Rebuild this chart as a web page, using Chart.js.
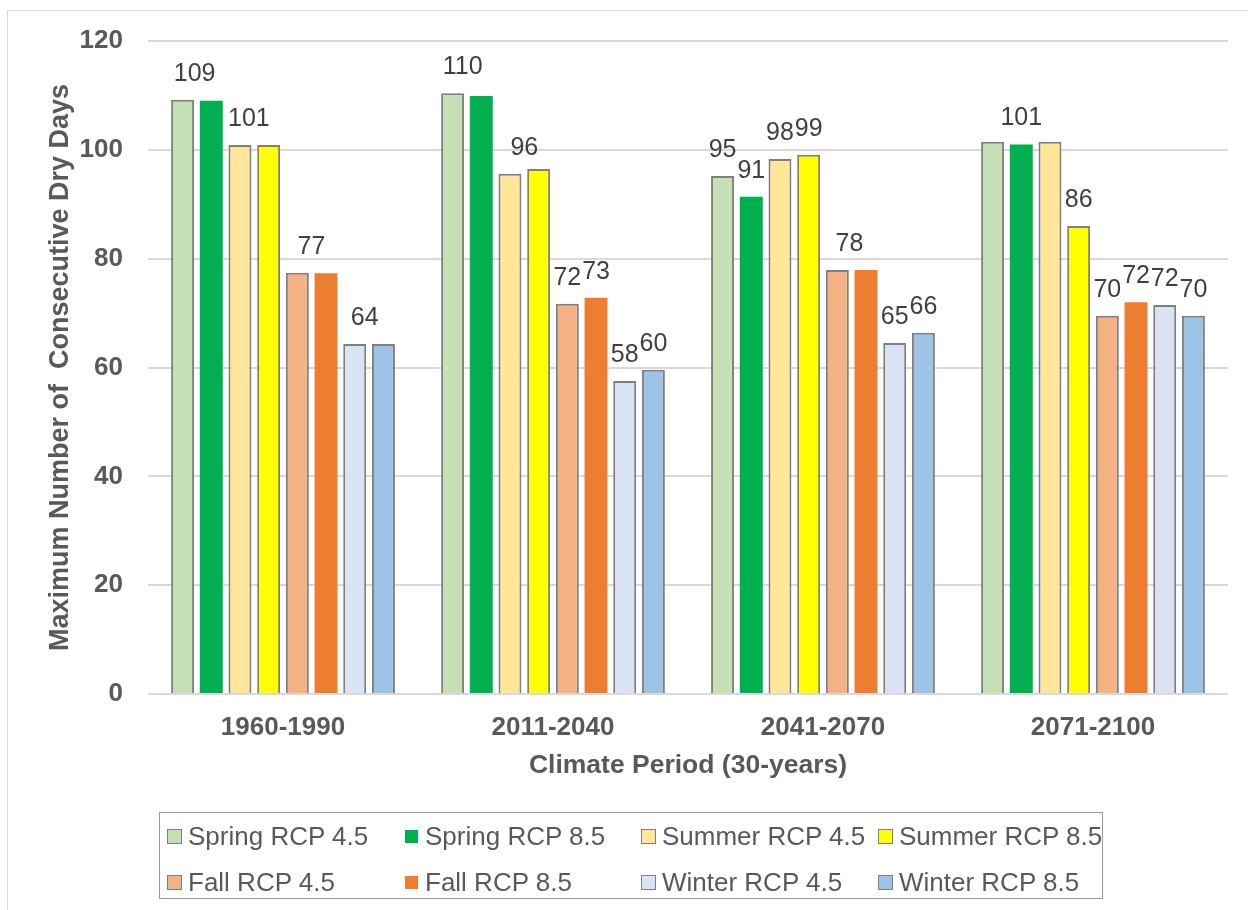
<!DOCTYPE html>
<html>
<head>
<meta charset="utf-8">
<script src="https://cdn.jsdelivr.net/npm/chart.js@4.4.1/dist/chart.umd.min.js"></script>
<style>
  body { margin: 0; background: #fff; font-family: "Liberation Sans", Arial, sans-serif; }
  #contenedor { position: relative; width: 1248px; height: 910px; overflow: hidden; }
  #marco { position: absolute; left: 7px; top: 10px; width: 1280px; height: 960px; border: 1.5px solid #d9d9d9; }
  #grafico { position: absolute; left: 0; top: 0; }
  #leyenda { position: absolute; left: 159px; top: 812px; width: 942px; height: 85px; border: 1.5px solid #999; }
  .item { position: absolute; display: flex; align-items: center; height: 30px; font-size: 26px; color: #595959; white-space: nowrap; }
  .marca { box-sizing: border-box; width: 15px; height: 15px; margin-right: 6px; }
</style>
</head>
<body>
<div id="contenedor">
  <div id="marco"></div>
  <canvas id="grafico" width="1248" height="910"></canvas>
  <div id="leyenda"></div>
</div>
<script>
// Periodos climáticos y días secos consecutivos máximos por estación y escenario
const periodos = ['1960-1990', '2011-2040', '2041-2070', '2071-2100'];
const primaveraRcp45 = [109.2, 110.4, 95.2, 101.5];
const primaveraRcp85 = [109.0, 109.9, 91.4, 101.0];
const veranoRcp45 = [100.9, 95.6, 98.3, 101.5];
const veranoRcp85 = [100.9, 96.5, 99.1, 86.0];
const otonoRcp45 = [77.4, 71.7, 77.9, 69.5];
const otonoRcp85 = [77.3, 72.8, 77.9, 72.0];
const inviernoRcp45 = [64.3, 57.5, 64.5, 71.5];
const inviernoRcp85 = [64.3, 59.6, 66.4, 69.5];
const ticksY = [0, 20, 40, 60, 80, 100, 120];

const fuente = '"Liberation Sans", Arial, sans-serif';
const gris = '#595959';

const series = [
    { label: 'Spring RCP 4.5', data: primaveraRcp45, color: '#c5e0b4', borde: true },
    { label: 'Spring RCP 8.5', data: primaveraRcp85, color: '#00b050', borde: false },
    { label: 'Summer RCP 4.5', data: veranoRcp45, color: '#ffe699', borde: true },
    { label: 'Summer RCP 8.5', data: veranoRcp85, color: '#ffff00', borde: true },
    { label: 'Fall RCP 4.5', data: otonoRcp45, color: '#f4b183', borde: true },
    { label: 'Fall RCP 8.5', data: otonoRcp85, color: '#ed7d31', borde: false },
    { label: 'Winter RCP 4.5', data: inviernoRcp45, color: '#dae3f3', borde: true },
    { label: 'Winter RCP 8.5', data: inviernoRcp85, color: '#9dc3e6', borde: true }
];

// Etiquetas visibles: [periodo, serie, desplazamiento en anchos de barra]
const etiquetas = [
    [0, 0, 0.42], [0, 2, 0.31], [0, 4, 0.49], [0, 6, 0.35],
    [1, 0, 0.35], [1, 2, 0.5], [1, 4, 0], [1, 5, 0], [1, 6, 0], [1, 7, 0],
    [2, 0, 0], [2, 1, 0], [2, 2, 0], [2, 3, 0], [2, 4, 0.42], [2, 6, 0], [2, 7, 0],
    [3, 1, 0], [3, 3, 0], [3, 4, 0], [3, 5, 0], [3, 6, 0], [3, 7, 0]
];

const pluginEtiquetas = {
    id: 'etiquetas',
    afterDatasetsDraw(chart) {
        const ctx = chart.ctx;
        ctx.save();
        ctx.font = '25px ' + fuente;
        ctx.fillStyle = '#404040';
        ctx.textAlign = 'center';
        ctx.textBaseline = 'middle';
        etiquetas.forEach(([p, s, desp]) => {
            const barra = chart.getDatasetMeta(s).data[p];
            const valor = chart.data.datasets[s].data[p];
            const paso = barra.width / 0.8;
            ctx.fillText(Math.round(valor), barra.x + desp * paso, barra.y - 26);
        });
        ctx.restore();
    }
};

const ctx = document.getElementById('grafico').getContext('2d');
const grafico = new Chart(ctx, {
    type: 'bar',
    data: {
        labels: periodos,
        datasets: series.map(s => ({
            label: s.label,
            data: s.data,
            backgroundColor: s.color,
            borderColor: s.borde ? '#7f7f7f' : s.color,
            borderWidth: s.borde ? 2 : 0,
            borderSkipped: 'start',
            categoryPercentage: 0.85,
            barPercentage: 0.8
        }))
    },
    options: {
        responsive: false,
        animation: false,
        events: [],
        layout: { padding: { left: 34, right: 20, top: 41, bottom: 126 } },
        plugins: {
            legend: { display: false },
            tooltip: { enabled: false }
        },
        scales: {
            x: {
                grid: { display: false, drawTicks: false },
                border: { display: false },
                ticks: { color: gris, font: { family: fuente, size: 26, weight: 'bold' }, padding: 18 },
                title: {
                    display: true,
                    text: 'Climate Period (30-years)',
                    color: gris,
                    font: { family: fuente, size: 26.5, weight: 'bold' },
                    padding: { top: 0, bottom: 2 }
                },
                afterFit: escala => { escala.height = 90; }
            },
            y: {
                min: 0,
                max: 120,
                afterBuildTicks: escala => { escala.ticks = ticksY.map(v => ({ value: v })); },
                grid: { color: '#d9d9d9', lineWidth: 2, drawTicks: false },
                border: { display: false },
                ticks: { color: gris, font: { family: fuente, size: 26, weight: 'bold' }, padding: 25 },
                title: {
                    display: true,
                    text: 'Maximum Number of  Consecutive Dry Days',
                    color: gris,
                    font: { family: fuente, size: 27, weight: 'bold' },
                    padding: { top: 10, bottom: 0 }
                },
                afterFit: escala => { escala.width = 114; }
            }
        }
    },
    plugins: [pluginEtiquetas]
});

// Leyenda en recuadro, dos filas de cuatro
const leyenda = document.getElementById('leyenda');
grafico.data.datasets.forEach((ds, i) => {
    const item = document.createElement('div');
    item.className = 'item';
    item.style.left = (7 + (i % 4) * 237) + 'px';
    item.style.top = (Math.floor(i / 4) * 46 + 8) + 'px';
    const marca = document.createElement('span');
    marca.className = 'marca';
    marca.style.background = ds.backgroundColor;
    marca.style.border = ds.borderWidth ? '1.5px solid #7f7f7f' : '1px solid #fff';
    item.appendChild(marca);
    item.appendChild(document.createTextNode(ds.label));
    leyenda.appendChild(item);
});
</script>
</body>
</html>
